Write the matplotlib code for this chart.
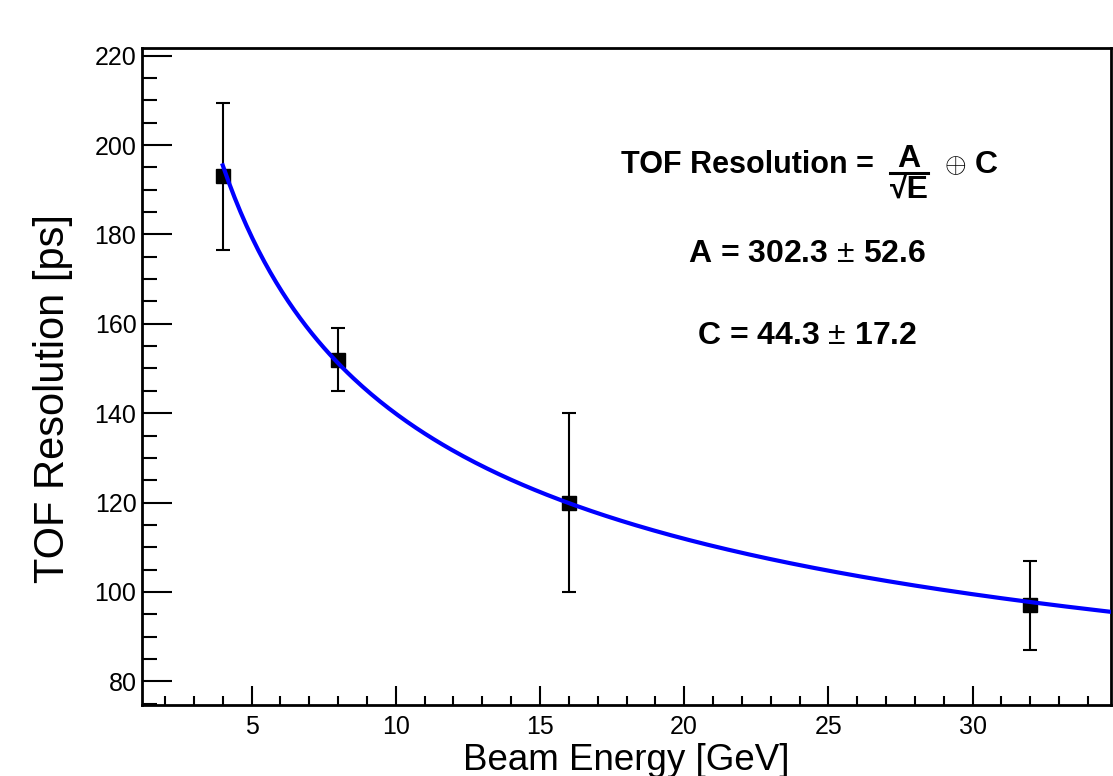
import numpy as np
import matplotlib
matplotlib.use("Agg")
import matplotlib.pyplot as plt
from matplotlib.ticker import MultipleLocator

plt.rcParams['font.family'] = ['Liberation Sans', 'DejaVu Sans']
plt.rcParams['mathtext.fontset'] = 'custom'
plt.rcParams['mathtext.rm'] = 'Liberation Sans'
plt.rcParams['mathtext.bf'] = 'Liberation Sans:bold'

# measured points
energy = [4, 8, 16, 32]          # GeV
resolution = [193, 152, 120, 97]  # ps
res_err = [16.5, 7, 20, 10]

# fit parameters (A/sqrt(E) + C)
A_fit, A_err = 302.3, 52.6
C_fit, C_err = 44.3, 17.2

fig = plt.figure(figsize=(11.13, 7.76), dpi=100)
ax = fig.add_axes([0.1276, 0.0915, 0.8706, 0.8466])

# fit curve from first point to the right edge
xf = np.linspace(4, 34.8, 300)
ax.plot(xf, A_fit / np.sqrt(xf) + C_fit, color=(0, 0, 1), lw=3, zorder=3)

ax.errorbar(energy, resolution, yerr=res_err, fmt='s', color='black',
            ms=10, elinewidth=1.5, capsize=5, capthick=1.5, zorder=2)

ax.set_xlim(1.2, 34.8)
ax.set_ylim(74.7, 221.7)

ax.xaxis.set_major_locator(MultipleLocator(5))
ax.xaxis.set_minor_locator(MultipleLocator(1))
ax.yaxis.set_major_locator(MultipleLocator(20))
ax.yaxis.set_minor_locator(MultipleLocator(5))

ax.tick_params(axis='both', which='both', direction='in', width=1.5,
               top=False, right=False, labelsize=18)
ax.tick_params(axis='x', which='major', length=13.7, pad=7)
ax.tick_params(axis='x', which='minor', length=6.8)
ax.tick_params(axis='y', which='major', length=21.6, pad=4)
ax.tick_params(axis='y', which='minor', length=10.8)

for s in ax.spines.values():
    s.set_linewidth(2)

fig.text(0.5625, 1 - 760 / 776, 'Beam Energy [GeV]', fontsize=26.5, ha='center', va='center')
fig.text(0.048, 0.487, 'TOF Resolution [ps]', fontsize=30, rotation=90,
         ha='center', va='center')

# formula box
fig.text(874 / 1113, 1 - 165 / 776, 'TOF Resolution =', fontsize=22, fontweight='bold',
         ha='right', va='center')
fig.text(909 / 1113, 1 - 159 / 776, 'A', fontsize=23, fontweight='bold', ha='center', va='center')
fig.text(909 / 1113, 1 - 190 / 776, '\u221aE', fontsize=23, fontweight='bold',
         ha='center', va='center')
fig.add_artist(plt.Line2D([890 / 1113, 928 / 1113], [1 - 173 / 776, 1 - 173 / 776],
                          color='black', lw=2.2, transform=fig.transFigure))
fig.text(955 / 1113, 1 - 166 / 776, r'$\oplus$', fontsize=20, ha='center', va='center')
fig.text(986 / 1113, 1 - 165 / 776, 'C', fontsize=23, fontweight='bold', ha='center', va='center')

fig.text(807 / 1113, 1 - 254 / 776, 'A = %.1f $\\pm$ %.1f' % (A_fit, A_err), fontsize=23,
         fontweight='bold', ha='center', va='center')
fig.text(807 / 1113, 1 - 336 / 776, 'C = %.1f $\\pm$ %.1f' % (C_fit, C_err), fontsize=23,
         fontweight='bold', ha='center', va='center')

fig.savefig('out.png', dpi=100)
